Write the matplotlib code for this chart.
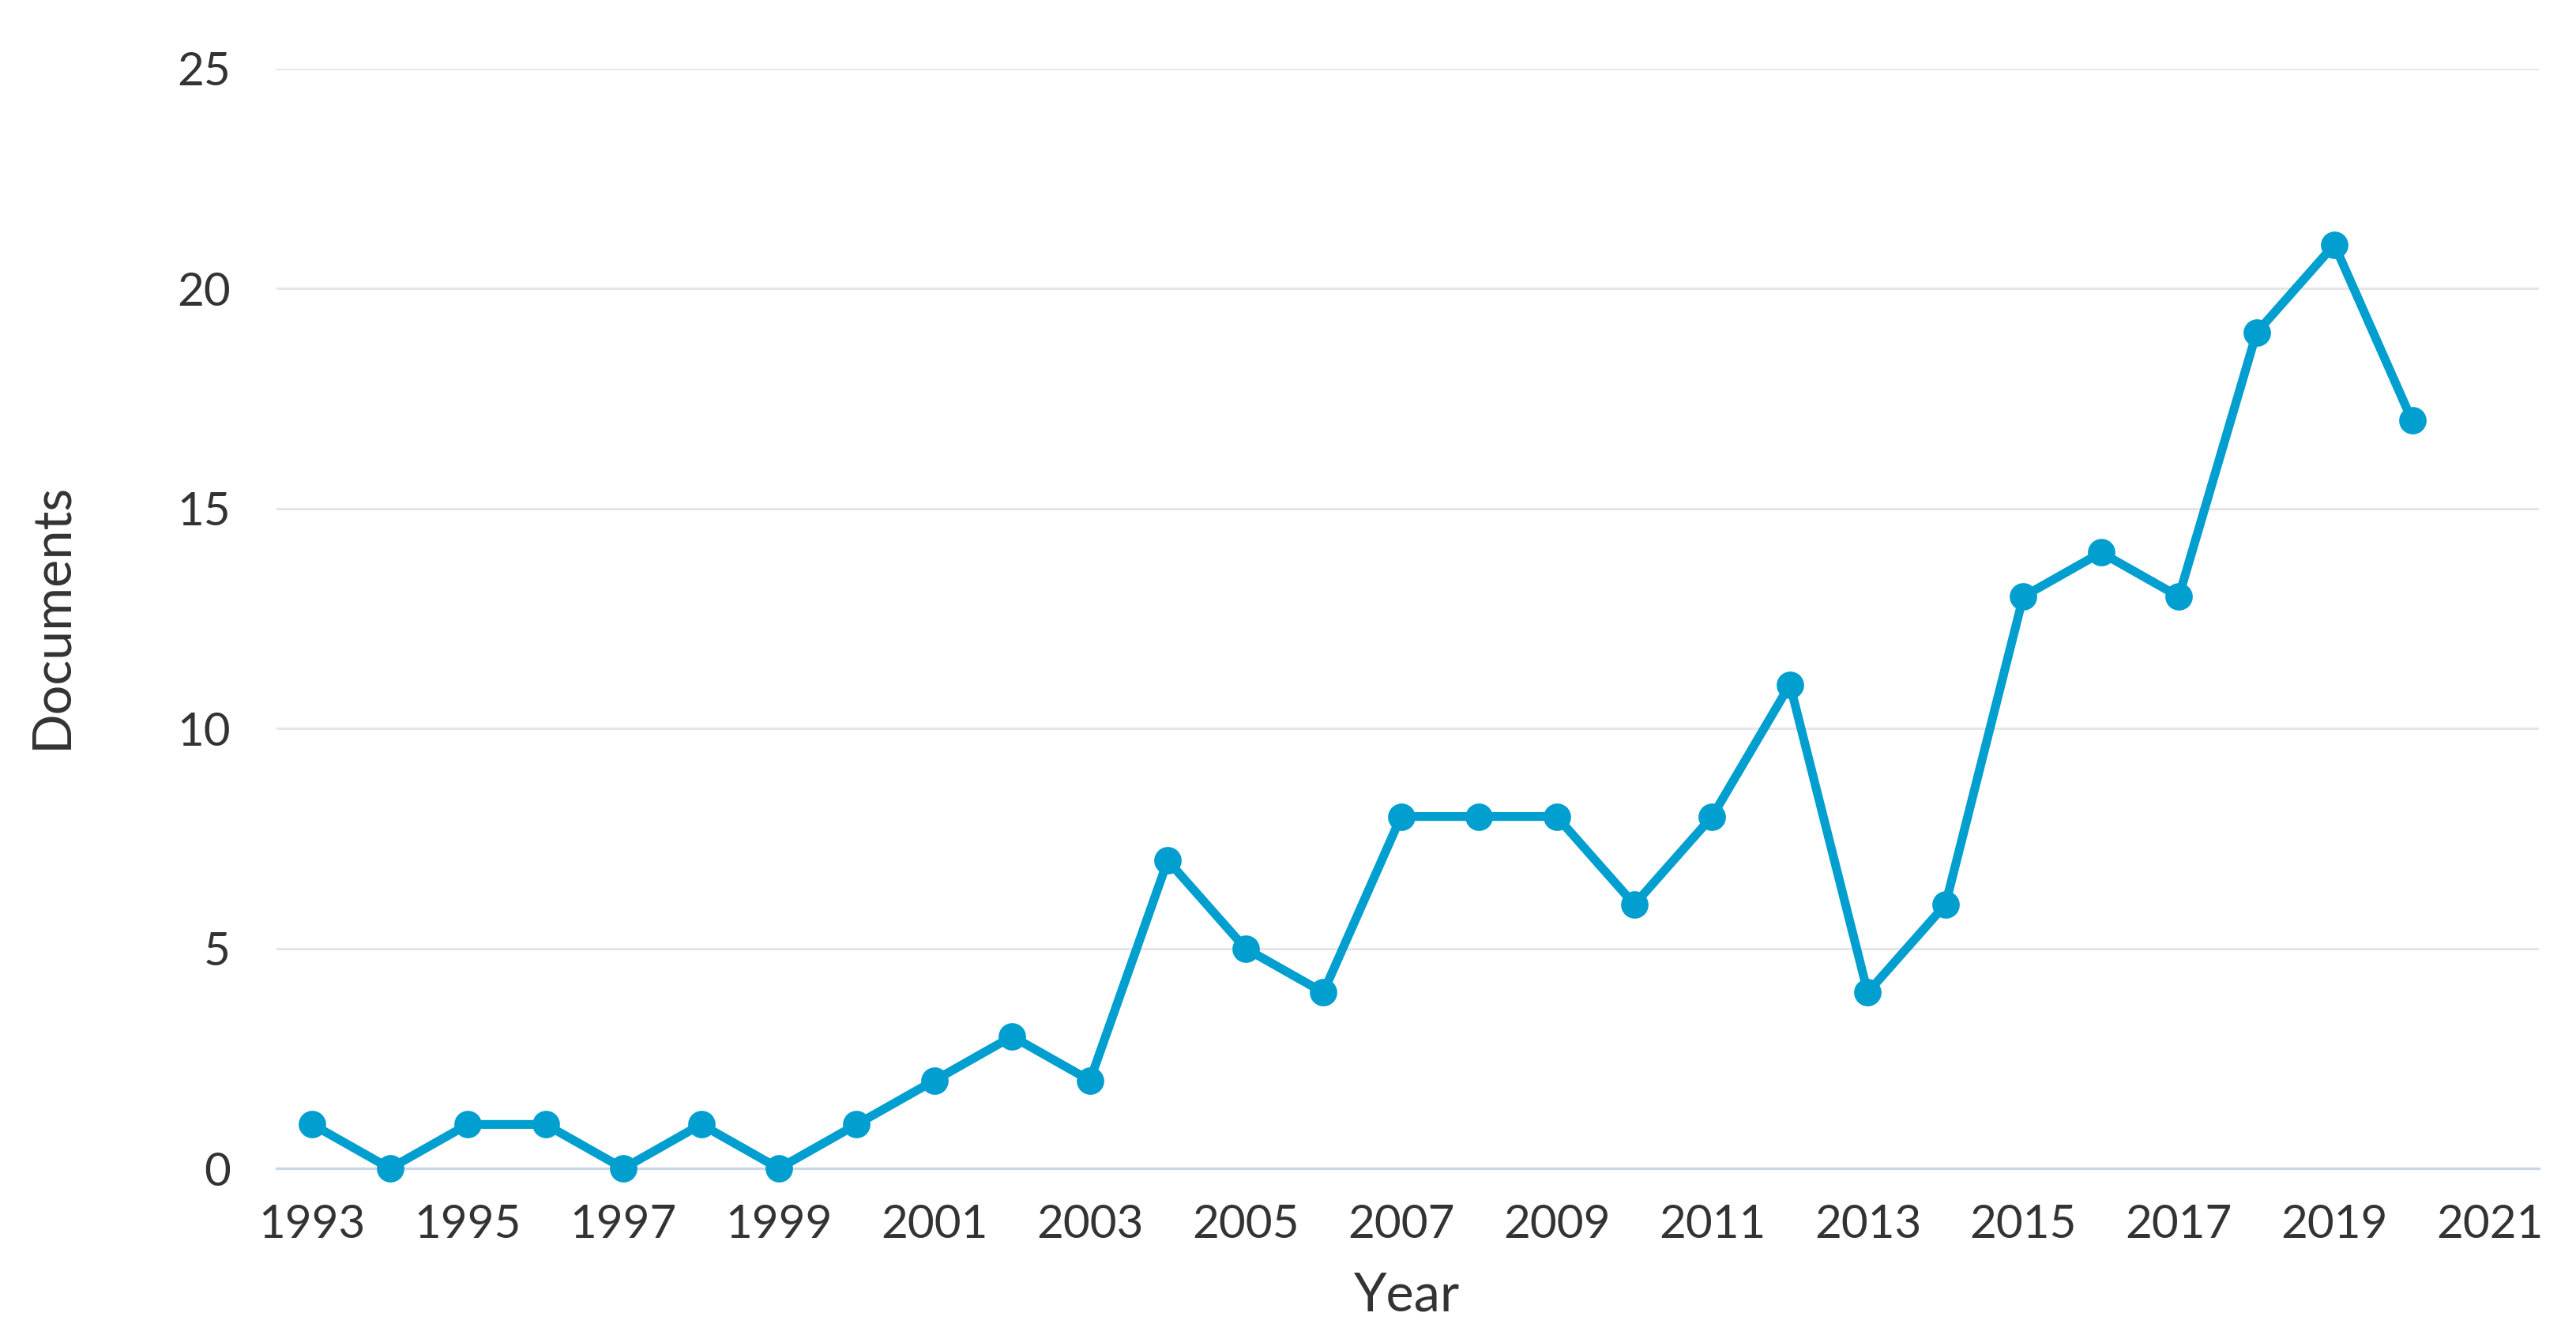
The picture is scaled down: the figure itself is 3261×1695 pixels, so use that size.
import matplotlib
matplotlib.use("Agg")
import matplotlib.pyplot as plt
from matplotlib import font_manager

years = [1993, 1994, 1995, 1996, 1997, 1998, 1999, 2000, 2001, 2002, 2003, 2004, 2005, 2006,
         2007, 2008, 2009, 2010, 2011, 2012, 2013, 2014, 2015, 2016, 2017, 2018, 2019, 2020]
documents = [1, 0, 1, 1, 0, 1, 0, 1, 2, 3, 2, 7, 5, 4,
             8, 8, 8, 6, 8, 11, 4, 6, 13, 14, 13, 19, 21, 17]
x_ticks = list(range(1993, 2022, 2))
y_ticks = [0, 5, 10, 15, 20, 25]

names = {f.name for f in font_manager.fontManager.ttflist}
fam = [f for f in ['Lato', 'Open Sans', 'DejaVu Sans'] if f in names]
plt.rcParams['font.family'] = fam

fig = plt.figure(figsize=(16.31, 8.475), dpi=200)
ax = fig.add_axes([0.1073, 0.1274, 0.878, 0.8213])

color = '#009fcf'
ax.plot(years, documents, color=color, lw=4.0, marker='o', ms=12.5,
        markeredgewidth=0, clip_on=False, zorder=5)

ax.set_xlim(1992.54, 2021.63)
ax.set_ylim(0, 25)
ax.set_xticks(x_ticks)
ax.set_yticks(y_ticks)
ax.grid(axis='y', color='#e6e6e6', lw=1.1)
ax.set_axisbelow(True)
for s in ['top', 'right', 'left']:
    ax.spines[s].set_visible(False)
ax.spines['bottom'].set_color('#ccd6eb')
ax.spines['bottom'].set_linewidth(1.2)
ax.tick_params(axis='both', length=0, labelsize=21, colors='#333333')
ax.tick_params(axis='x', pad=16)
ax.tick_params(axis='y', pad=21)

fig.text(0.546, 0.032, 'Year', fontsize=24, color='#333333', ha='center', va='center')
fig.text(0.0199, 0.54, 'Documents', fontsize=24, color='#333333', ha='center', va='center',
         rotation=90)

fig.savefig('out.png', dpi=200, facecolor='white')
